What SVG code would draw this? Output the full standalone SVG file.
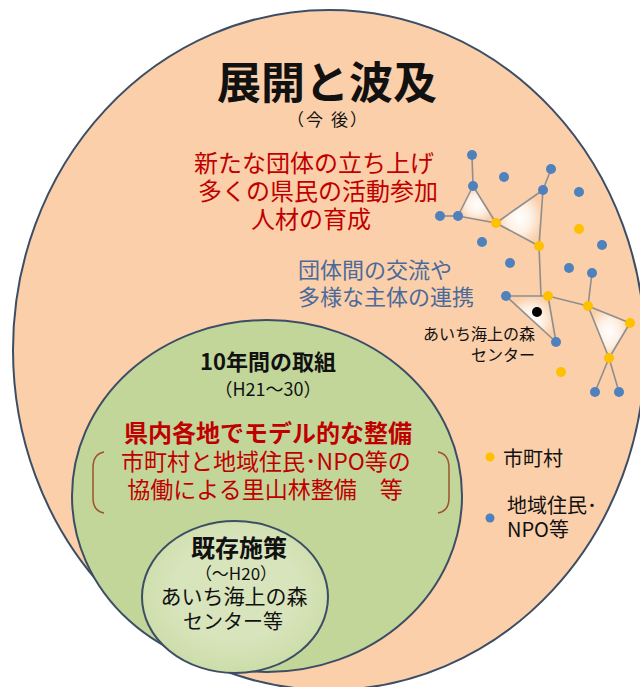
<svg xmlns="http://www.w3.org/2000/svg" width="640" height="687" viewBox="0 0 640 687">
<defs>
<radialGradient id="glow" cx="50%" cy="50%" r="50%">
<stop offset="0" stop-color="#FFFFFF" stop-opacity="1"/>
<stop offset="0.5" stop-color="#FFFFFF" stop-opacity="0.7"/>
<stop offset="1" stop-color="#FFFFFF" stop-opacity="0"/>
</radialGradient>
<radialGradient id="glowIn" cx="50%" cy="45%" r="55%">
<stop offset="0.6" stop-color="#D8E4BC"/>
<stop offset="1" stop-color="#CCDDA8"/>
</radialGradient>
</defs>
<style>
.ring{stroke:#3C4E65;stroke-width:2}
.jp{font-family:"Noto Sans CJK JP","Noto Sans",sans-serif}
.c{text-anchor:middle}
.red{fill:#C00000}
.blk{fill:#111111}
.blu{fill:#4A6A9C}
.edge{stroke:#8E8E8E;stroke-width:1.6;fill:none}
.b{fill:#4F81BD}
.y{fill:#FFC000}
.tri{fill:url(#glow)}
.brk{stroke:#A0522D;stroke-width:1.5;fill:none}
</style>
<rect width="640" height="687" fill="#FFFFFF"/>

<g id="outer">
<ellipse class="ring" cx="329" cy="350" rx="316" ry="340" fill="#FBCFA9"/>
<text class="jp c blk" x="327" y="99" font-size="44" font-weight="bold">展開と波及</text>
<text class="jp c blk" x="328" y="126" font-size="17" letter-spacing="2">（今 後）</text>
<text class="jp c red" x="314" y="172" font-size="24">新たな団体の立ち上げ</text>
<text class="jp c red" x="318" y="200" font-size="24">多くの県民の活動参加</text>
<text class="jp c red" x="311" y="228" font-size="24">人材の育成</text>
<text class="jp blu" x="298" y="278" font-size="22">団体間の交流や</text>
<text class="jp blu" x="298" y="305" font-size="22">多様な主体の連携</text>
</g>

<g id="connectors">
<polygon class="tri" points="473,186 458,216 496,223"/>
<polygon class="tri" points="496,223 543,190 539,246"/>
<polygon class="tri" points="506,296 548,296 556,342"/>
<polygon class="tri" points="588,306 630,323 609,358"/>
<line class="edge" x1="472" y1="155" x2="473" y2="186"/>
<line class="edge" x1="440" y1="216" x2="458" y2="216"/>
<line class="edge" x1="458" y1="216" x2="473" y2="186"/>
<line class="edge" x1="473" y1="186" x2="496" y2="223"/>
<line class="edge" x1="458" y1="216" x2="496" y2="223"/>
<line class="edge" x1="496" y1="223" x2="543" y2="190"/>
<line class="edge" x1="543" y1="190" x2="539" y2="246"/>
<line class="edge" x1="496" y1="223" x2="539" y2="246"/>
<line class="edge" x1="551" y1="169" x2="543" y2="190"/>
<line class="edge" x1="539" y1="246" x2="541" y2="296"/>
<line class="edge" x1="506" y1="296" x2="548" y2="296"/>
<line class="edge" x1="506" y1="296" x2="556" y2="342"/>
<line class="edge" x1="548" y1="296" x2="556" y2="342"/>
<line class="edge" x1="548" y1="296" x2="588" y2="306"/>
<line class="edge" x1="592" y1="273" x2="588" y2="306"/>
<line class="edge" x1="588" y1="306" x2="630" y2="323"/>
<line class="edge" x1="588" y1="306" x2="609" y2="358"/>
<line class="edge" x1="630" y1="323" x2="609" y2="358"/>
<line class="edge" x1="609" y1="358" x2="595" y2="392"/>
<line class="edge" x1="609" y1="358" x2="619" y2="392"/>
</g>

<g id="network-nodes">
<circle class="b" cx="472" cy="155" r="5"/>
<circle class="b" cx="473" cy="186" r="5"/>
<circle class="b" cx="440" cy="216" r="5"/>
<circle class="b" cx="458" cy="216" r="5"/>
<circle class="b" cx="504" cy="177" r="5"/>
<circle class="b" cx="551" cy="169" r="5"/>
<circle class="b" cx="543" cy="190" r="5"/>
<circle class="b" cx="579" cy="192" r="5"/>
<circle class="b" cx="482" cy="242" r="5"/>
<circle class="b" cx="602" cy="245" r="5"/>
<circle class="b" cx="510" cy="263" r="5"/>
<circle class="b" cx="569" cy="268" r="5"/>
<circle class="b" cx="592" cy="273" r="5"/>
<circle class="b" cx="506" cy="296" r="5"/>
<circle class="b" cx="556" cy="342" r="5"/>
<circle class="b" cx="595" cy="392" r="5"/>
<circle class="b" cx="619" cy="392" r="5"/>
<circle class="y" cx="496" cy="223" r="5"/>
<circle class="y" cx="539" cy="246" r="5"/>
<circle class="y" cx="579" cy="229" r="5"/>
<circle class="y" cx="548" cy="296" r="5"/>
<circle class="y" cx="588" cy="306" r="5"/>
<circle class="y" cx="630" cy="323" r="5"/>
<circle class="y" cx="609" cy="358" r="5"/>
<circle class="y" cx="561" cy="372" r="5"/>
<circle cx="537" cy="312" r="5" fill="#000000"/>
<text class="jp blk" x="535" y="340" font-size="16" text-anchor="end">あいち海上の森</text>
<text class="jp blk" x="535" y="361" font-size="16" text-anchor="end">センター</text>
</g>

<g id="legend">
<circle class="y" cx="490" cy="457" r="4.5"/>
<text class="jp blk" x="503" y="466" font-size="20">市町村</text>
<circle class="b" cx="490" cy="518" r="4.5"/>
<text class="jp blk" x="507" y="513" font-size="20">地域住民･</text>
<text class="jp blk" x="507" y="537" font-size="20">NPO等</text>
</g>

<g id="middle">
<ellipse class="ring" cx="267" cy="496" rx="195" ry="176" fill="#C2D69A"/>
<text class="jp c blk" x="268" y="370" font-size="22" font-weight="bold">10年間の取組</text>
<text class="jp c blk" x="268" y="396" font-size="18">（H21〜30）</text>
<text class="jp c red" x="268" y="442" font-size="24" font-weight="bold">県内各地でモデル的な整備</text>
<text class="jp c red" x="266" y="470" font-size="23">市町村と地域住民･NPO等の</text>
<text class="jp c red" x="265" y="498" font-size="23">協働による里山林整備　等</text>
<path class="brk" d="M104,452 Q93,454 93,468 L93,498 Q93,511 104,513"/>
<path class="brk" d="M438,452 Q449,454 449,468 L449,498 Q449,511 438,513"/>
</g>

<g id="inner">
<ellipse class="ring" cx="235" cy="597" rx="93" ry="76" fill="url(#glowIn)"/>
<text class="jp c blk" x="239" y="557" font-size="24" font-weight="bold">既存施策</text>
<text class="jp c blk" x="236" y="580" font-size="17">（〜H20）</text>
<text class="jp c blk" x="234" y="604" font-size="21">あいち海上の森</text>
<text class="jp c blk" x="233" y="629" font-size="20">センター等</text>
</g>
</svg>
